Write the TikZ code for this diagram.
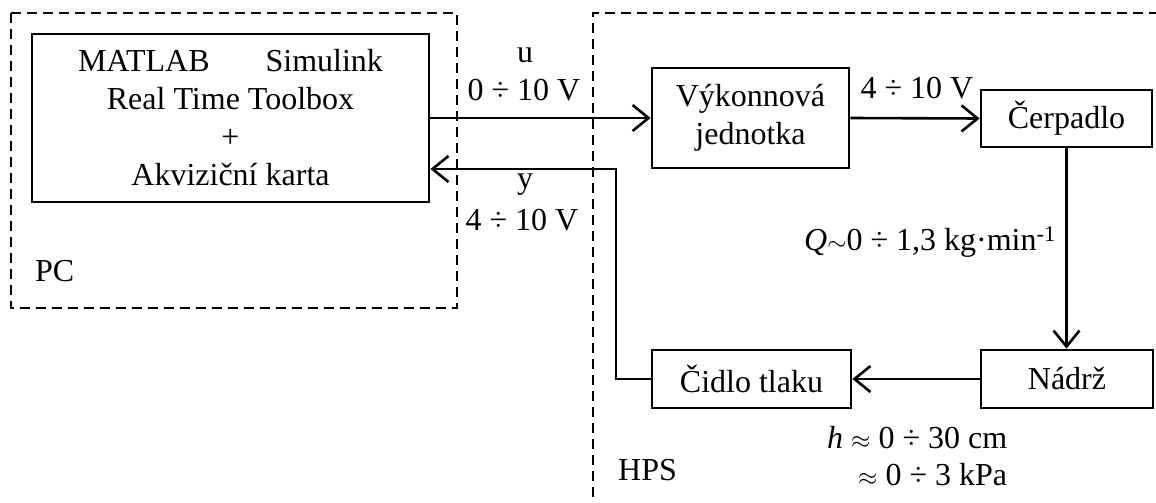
\documentclass[tikz,border=0pt]{standalone}
\usepackage{fontspec}
\setmainfont{Liberation Serif}
\usetikzlibrary{arrows.meta}

\begin{document}
\begin{tikzpicture}[x=1pt,y=-1pt,
  blk/.style={draw, line width=2.8pt, inner sep=0pt, align=center,
              font=\fontsize{32}{38}\selectfont},
  lbl/.style={inner sep=0pt, font=\fontsize{32}{38}\selectfont},
  wire/.style={line width=2.6pt},
  conn/.style={wire, -{Straight Barb[length=16pt,width=26pt,line width=2.6pt]}},
  zone/.style={draw, line width=2.6pt, dash pattern=on 10pt off 6pt}]
\useasboundingbox (0,0) rectangle (1156,503);

% dashed frames of the two subsystems
\draw[zone] (11,13) rectangle (457,308);
\draw[zone] (1175,13) -- (593,13) -- (593,520);
\node[lbl, anchor=west] (pclbl) at (35,271) {PC};
\node[lbl, anchor=west] (hpslbl) at (618,470) {HPS};

% blocks
\node[blk, minimum width=397pt, minimum height=168pt] (pc) at (230.5,118)
  {MATLAB\hspace*{56pt}Simulink\\Real Time Toolbox\\+\\Akviziční karta};
\node[blk, minimum width=197pt, minimum height=100pt] (vyk) at (750.5,118)
  {Výkonnová\\jednotka};
\node[blk, minimum width=171pt, minimum height=57pt] (cer) at (1066.5,118.5) {Čerpadlo};
\node[blk, minimum width=199pt, minimum height=58pt] (cid) at (751.5,379) {Čidlo tlaku};
\node[blk, minimum width=172pt, minimum height=58pt] (nad) at (1067,379) {Nádrž};

% signal paths
\draw[conn] (pc.east |- vyk.west) -- (vyk.west);
\draw[conn] (vyk.east) -- (cer.west);
\draw[conn] (cer.south) -- (nad.north -| cer.south);
\draw[conn] (nad.west) -- (cid.east);
\coordinate (fb) at (616,169);
\draw[conn] (cid.west) -| (fb) -- (pc.east |- fb);

% signal labels
\node[lbl] (ulbl) at (525,55) {u};
\node[lbl] (urng) at (524,90) {0 ÷ 10 V};
\node[lbl] (ylbl) at (525,185) {y};
\node[lbl] (yrng) at (522,220) {4 ÷ 10 V};
\node[lbl] (prng) at (917,88) {4 ÷ 10 V};
\node[lbl] (qlbl) at (930,242) {\textit{Q}$\sim$0 ÷ 1,3 kg·min\textsuperscript{-1}};
\node[lbl, anchor=west] (hlbl) at (827,438) {\textit{h} $\approx$ 0 ÷ 30 cm};
\node[lbl, anchor=west] (plbl) at (858,475) {$\approx$ 0 ÷ 3 kPa};
\end{tikzpicture}
\end{document}
